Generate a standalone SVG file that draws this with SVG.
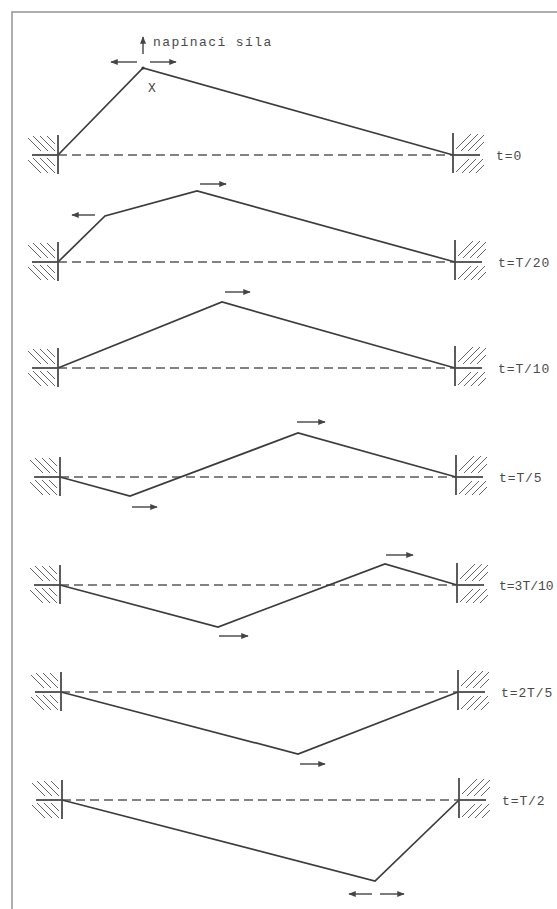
<svg xmlns="http://www.w3.org/2000/svg" xmlns:xlink="http://www.w3.org/1999/xlink" width="557" height="909" viewBox="0 0 557 909">
  <style>
    .frame { fill: none; stroke: #9a9a9a; stroke-width: 1.6; }
    .string { fill: none; stroke: #3c3c3c; stroke-width: 1.7; stroke-linejoin: miter; }
    .axis { stroke: #5a5a5a; stroke-width: 1.3; stroke-dasharray: 9 5; }
    .wall { stroke: #4a4a4a; stroke-width: 1.8; fill: none; }
    .hatch { stroke: #666; stroke-width: 1; fill: none; }
    .arrow { stroke: #444; stroke-width: 1.4; fill: none; marker-end: url(#head); }
    .lbl { font-family: "Liberation Mono", "DejaVu Sans Mono", monospace; font-size: 13px; fill: #4a4a4a; letter-spacing: 0.9px; }
  </style>
  <defs>
    <marker id="head" viewBox="0 0 10 8" refX="9" refY="4" markerWidth="8" markerHeight="6" markerUnits="userSpaceOnUse" orient="auto">
      <path d="M0,0 L10,4 L0,8 Z" fill="#444"/>
    </marker>
    <clipPath id="clipL">
      <rect x="-30" y="-19" width="27" height="16"/>
      <rect x="-30" y="3" width="27" height="15"/>
    </clipPath>
    <clipPath id="clipR">
      <rect x="3" y="-21" width="28" height="17"/>
      <rect x="3" y="4" width="28" height="14"/>
    </clipPath>
    <!-- fixed support on the left end, hatched behind the wall -->
    <g id="wallL">
      <g class="hatch" clip-path="url(#clipL)">
        <path d="M-33,-20 l16,16 M-26,-20 l16,16 M-19,-20 l16,16 M-12,-20 l16,16"/>
        <path d="M-33,2 l16,16 M-26,2 l16,16 M-19,2 l16,16 M-12,2 l16,16"/>
      </g>
      <line x1="0" y1="-20" x2="0" y2="19" class="wall"/>
      <line x1="-26" y1="0" x2="0" y2="0" class="wall"/>
    </g>
    <!-- fixed support on the right end -->
    <g id="wallR">
      <g class="hatch" clip-path="url(#clipR)">
        <path d="M1,-4 l17,-17 M8,-4 l17,-17 M15,-4 l17,-17 M22,-4 l17,-17"/>
        <path d="M1,19 l16,-16 M8,19 l16,-16 M15,19 l16,-16 M22,19 l16,-16"/>
      </g>
      <line x1="0" y1="-22" x2="0" y2="18" class="wall"/>
      <line x1="0" y1="0" x2="27" y2="0" class="wall"/>
    </g>
  </defs>

  <rect x="0" y="0" width="557" height="909" fill="#fff"/>
  <rect class="frame" x="12" y="12" width="600" height="920"/>

  <!-- t = 0 : plucked string -->
  <g id="snap-t0">
    <line class="axis" x1="58" y1="155" x2="453" y2="155"/>
    <polyline class="string" points="58,155 143,68 453,155"/>
    <circle cx="143" cy="68" r="1.6" fill="#333"/>
    <use xlink:href="#wallL" x="58" y="155"/>
    <use xlink:href="#wallR" x="453" y="155"/>
    <text class="lbl" x="148" y="92">X</text>
    <text class="lbl" x="153" y="46" style="letter-spacing:1.4px">napínací síla</text>
    <text class="lbl" x="496" y="160">t=0</text>
  </g>

  <!-- t = T/20 -->
  <g id="snap-t1">
    <line class="axis" x1="58" y1="262" x2="455" y2="262"/>
    <polyline class="string" points="58,262 105,216 197,191 455,262"/>
    <use xlink:href="#wallL" x="58" y="262"/>
    <use xlink:href="#wallR" x="455" y="262"/>
    <text class="lbl" x="498" y="267">t=T/20</text>
  </g>

  <!-- t = T/10 -->
  <g id="snap-t2">
    <line class="axis" x1="58" y1="368" x2="455" y2="368"/>
    <polyline class="string" points="58,368 222,302 455,368"/>
    <use xlink:href="#wallL" x="58" y="368"/>
    <use xlink:href="#wallR" x="455" y="368"/>
    <text class="lbl" x="498" y="373">t=T/10</text>
  </g>

  <!-- t = T/5 -->
  <g id="snap-t3">
    <line class="axis" x1="60" y1="477" x2="456" y2="477"/>
    <polyline class="string" points="60,477 130,496 298,433 456,477"/>
    <use xlink:href="#wallL" x="60" y="477"/>
    <use xlink:href="#wallR" x="456" y="477"/>
    <text class="lbl" x="499" y="482">t=T/5</text>
  </g>

  <!-- t = 3T/10 -->
  <g id="snap-t4">
    <line class="axis" x1="60" y1="585" x2="457" y2="585"/>
    <polyline class="string" points="60,585 218,627 385,564 457,585"/>
    <use xlink:href="#wallL" x="60" y="585"/>
    <use xlink:href="#wallR" x="457" y="585"/>
    <text class="lbl" x="499" y="590" style="letter-spacing:0">t=3T/10</text>
  </g>

  <!-- t = 2T/5 -->
  <g id="snap-t5">
    <line class="axis" x1="61" y1="692" x2="458" y2="692"/>
    <polyline class="string" points="61,692 298,754 458,692"/>
    <use xlink:href="#wallL" x="61" y="692"/>
    <use xlink:href="#wallR" x="458" y="692"/>
    <text class="lbl" x="501" y="697">t=2T/5</text>
  </g>

  <!-- t = T/2 -->
  <g id="snap-t6">
    <line class="axis" x1="62" y1="800" x2="459" y2="800"/>
    <polyline class="string" points="62,800 375,881 459,800"/>
    <use xlink:href="#wallL" x="62" y="800"/>
    <use xlink:href="#wallR" x="459" y="800"/>
    <text class="lbl" x="502" y="805">t=T/2</text>
  </g>

  <!-- direction arrows of the kink -->
  <g id="arrows">
    <line class="arrow" x1="143" y1="54" x2="143" y2="37"/>
    <line class="arrow" x1="137" y1="62" x2="111" y2="62"/>
    <line class="arrow" x1="150" y1="62" x2="176" y2="62"/>
    <line class="arrow" x1="95" y1="215" x2="72" y2="215"/>
    <line class="arrow" x1="200" y1="184" x2="226" y2="184"/>
    <line class="arrow" x1="225" y1="292" x2="250" y2="292"/>
    <line class="arrow" x1="297" y1="422" x2="325" y2="422"/>
    <line class="arrow" x1="132" y1="507" x2="157" y2="507"/>
    <line class="arrow" x1="386" y1="555" x2="413" y2="555"/>
    <line class="arrow" x1="219" y1="636" x2="248" y2="636"/>
    <line class="arrow" x1="300" y1="764" x2="325" y2="764"/>
    <line class="arrow" x1="372" y1="894" x2="349" y2="894"/>
    <line class="arrow" x1="380" y1="894" x2="404" y2="894"/>
  </g>
</svg>
